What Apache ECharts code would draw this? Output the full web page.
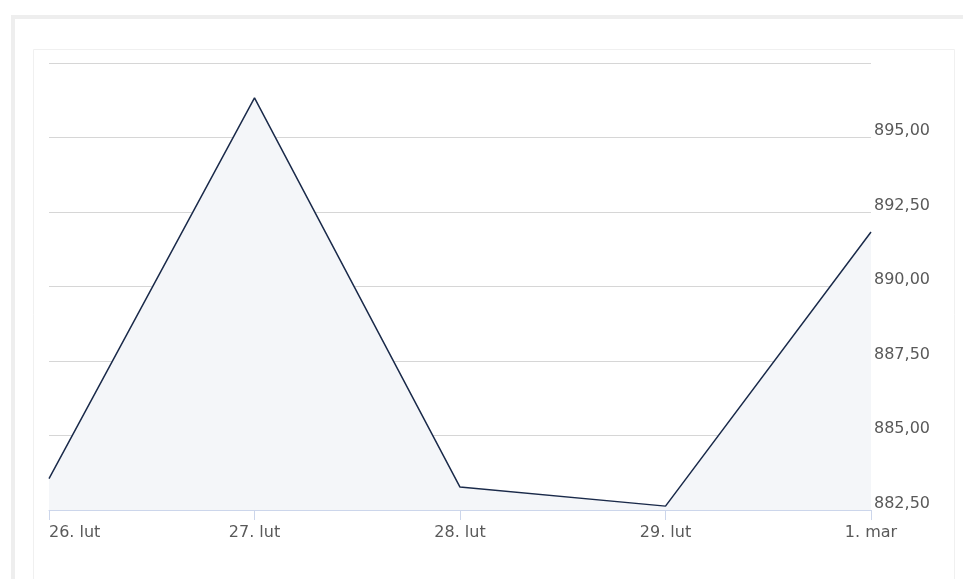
<!DOCTYPE html>
<html>
<head>
<meta charset="utf-8">
<style>
html,body{margin:0;padding:0;background:#fff;}
#chart{width:963px;height:579px;}
</style>
<script src="https://cdn.jsdelivr.net/npm/echarts@6/dist/echarts.min.js"></script>
</head>
<body>
<div id="chart"></div>
<script>
const categories = ['26. lut', '27. lut', '28. lut', '29. lut', '1. mar'];
const values = [883.55, 896.33, 883.27, 882.63, 891.83];
const yMin = 882.5;
const yMax = 897.5;
const yStep = 2.5;

const chart = echarts.init(document.getElementById('chart'), null, {renderer: 'canvas'});
const fontFamily = '"DejaVu Sans", sans-serif';
chart.setOption({
  animation: false,
  backgroundColor: '#ffffff',
  graphic: [
    {type: 'rect', shape: {x: 13, y: 17, width: 1000, height: 700}, style: {fill: 'none', stroke: '#eeeeee', lineWidth: 4}, silent: true, z: -10},
    {type: 'rect', shape: {x: 33.5, y: 49.5, width: 921, height: 600}, style: {fill: 'none', stroke: '#f0f0f0', lineWidth: 1}, silent: true, z: -10}
  ],
  grid: {left: 49, right: 92, top: 63, bottom: 69, containLabel: false},
  xAxis: {
    type: 'category',
    data: categories,
    boundaryGap: false,
    axisLine: {lineStyle: {color: '#ccd6eb', width: 1}},
    axisTick: {show: true, length: 10, lineStyle: {color: '#ccd6eb'}},
    axisLabel: {color: '#595959', fontFamily: fontFamily, fontSize: 16, margin: 15, alignMinLabel: 'left'},
    splitLine: {show: false}
  },
  yAxis: {
    type: 'value',
    position: 'right',
    min: yMin,
    max: yMax,
    interval: yStep,
    axisLine: {show: false},
    axisTick: {show: false},
    splitLine: {show: true, lineStyle: {color: '#d6d6d6', width: 1}},
    axisLabel: {
      showMaxLabel: false,
      color: '#595959', fontFamily: fontFamily, fontSize: 16,
      margin: 3,
      verticalAlign: 'bottom',
      lineHeight: 13,
      formatter: v => v.toFixed(2).replace('.', ',')
    }
  },
  series: [{
    type: 'line',
    data: values,
    symbol: 'none',
    lineStyle: {color: '#1a2a4a', width: 1.5},
    areaStyle: {color: '#f4f6f9', opacity: 1, origin: 'start'}
  }]
});
</script>
</body>
</html>
